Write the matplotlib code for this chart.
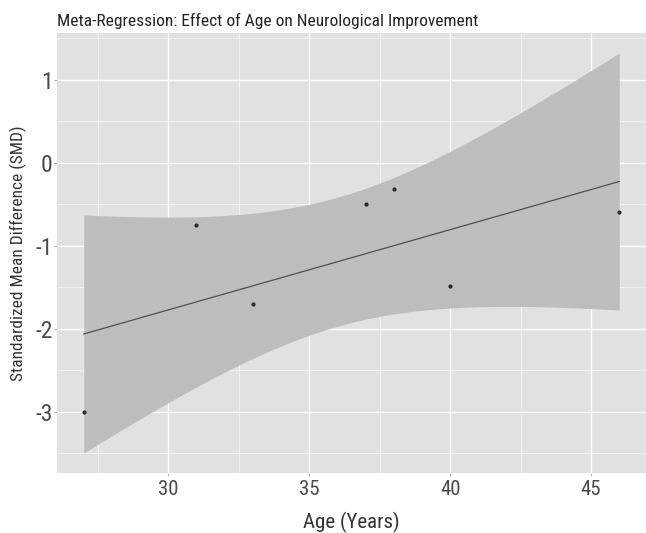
import numpy as np
import matplotlib
matplotlib.use("Agg")
import matplotlib.pyplot as plt
from matplotlib.ticker import MultipleLocator

plt.rcParams["font.family"] = ["Roboto Condensed", "Archivo Narrow", "DejaVu Sans"]

# ── Study-level data ──
age = np.array([27, 31, 33, 37, 38, 40, 46])
smd = np.array([-3.0, -0.75, -1.7, -0.5, -0.32, -1.48, -0.6])

x_ticks = [30, 35, 40, 45]
y_ticks = [1, 0, -1, -2, -3]

# ── Linear fit with 95% confidence band (lm smoother) ──
n = len(age)
slope, intercept = np.polyfit(age, smd, 1)
resid = smd - (slope * age + intercept)
s = np.sqrt(np.sum(resid ** 2) / (n - 2))
sxx = np.sum((age - age.mean()) ** 2)
t_crit = 2.5706  # t(0.975, df=5)

xs = np.linspace(age.min(), age.max(), 80)
fit = slope * xs + intercept
se = s * np.sqrt(1 / n + (xs - age.mean()) ** 2 / sxx)
lo, hi = fit - t_crit * se, fit + t_crit * se

# ── Figure ──
fig = plt.figure(figsize=(6.46, 5.33), dpi=100)
ax = fig.add_axes([57 / 646, 1 - 473 / 533, 589 / 646, 440 / 533])
ax.set_facecolor("#e1e1e3")
for sp in ax.spines.values():
    sp.set_visible(False)

ax.xaxis.set_minor_locator(MultipleLocator(2.5))
ax.yaxis.set_minor_locator(MultipleLocator(0.5))
ax.grid(which="major", color="white", linewidth=1.0)
ax.grid(which="minor", color="white", linewidth=0.5, alpha=0.8)
ax.set_axisbelow(True)

ax.fill_between(xs, lo, hi, color="#bdbdc0", linewidth=0, zorder=2)
ax.plot(xs, fit, color="#4f4f52", linewidth=0.9, zorder=3)
ax.scatter(age, smd, s=4, color="#2a2a2a", zorder=4)

# ggplot-style 5% expansion on both axes
xr = age.max() - age.min()
ax.set_xlim(age.min() - 0.05 * xr, age.max() + 0.05 * xr)
yr = hi.max() - lo.min()
ax.set_ylim(lo.min() - 0.05 * yr, hi.max() + 0.05 * yr)

ax.set_xticks(x_ticks)
ax.set_yticks(y_ticks)
ax.set_yticklabels([str(v) for v in y_ticks])
ax.tick_params(which="major", length=2, width=0.6, color="#a0a0a0",
               labelcolor="#4a4a4a")
ax.tick_params(axis="x", labelsize=15, pad=3)
ax.tick_params(axis="y", labelsize=17, pad=1)
ax.tick_params(which="minor", length=0)

ax.set_xlabel("Age (Years)", fontsize=15, color="#333333", labelpad=9)
ax.set_ylabel("Standardized Mean Difference (SMD)", fontsize=12.5, color="#333333", labelpad=6)
ax.set_title("Meta-Regression: Effect of Age on Neurological Improvement",
             fontsize=12.5, loc="left", color="#222222", pad=5)

fig.savefig("out.png", dpi=100)
